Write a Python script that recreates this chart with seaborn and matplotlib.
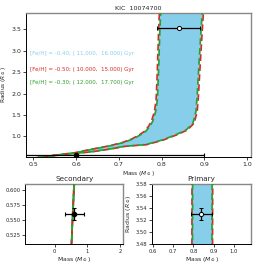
import numpy as np
import pandas as pd
import matplotlib
matplotlib.use("Agg")
import matplotlib.pyplot as plt
import seaborn as sns

# ---------------- data ----------------
title = "KIC  10074700"
# radius samples for the older (left) and younger (right) isochrones
old_r = [0.49, 0.56, 0.62, 0.69, 0.78, 0.86, 0.95, 1.04, 1.12, 1.23, 1.35, 1.58, 1.85, 2.30, 2.90, 3.50, 3.95]
young_r = [0.49, 0.555, 0.61, 0.64, 0.71, 0.77, 0.81, 0.92, 1.04, 1.15, 1.31, 1.58, 1.96, 2.50, 3.00, 3.50, 3.95]

# [Fe/H] = -0.40 (11, 16 Gyr)
m40_old = [0.500, 0.550, 0.600, 0.633, 0.680, 0.712, 0.735, 0.751, 0.763, 0.772, 0.779, 0.786, 0.790, 0.792, 0.794, 0.796, 0.798]
m40_young = [0.500, 0.550, 0.600, 0.633, 0.680, 0.712, 0.763, 0.802, 0.833, 0.857, 0.873, 0.880, 0.883, 0.886, 0.889, 0.892, 0.895]
# [Fe/H] = -0.50 (10, 15 Gyr)
m50_old = [0.498, 0.548, 0.597, 0.630, 0.677, 0.709, 0.732, 0.748, 0.760, 0.769, 0.776, 0.783, 0.787, 0.789, 0.791, 0.793, 0.795]
m50_young = [0.500, 0.551, 0.602, 0.636, 0.683, 0.715, 0.766, 0.805, 0.836, 0.860, 0.876, 0.883, 0.886, 0.889, 0.892, 0.895, 0.898]
# [Fe/H] = -0.30 (12, 17.7 Gyr)
m30_old = [0.500, 0.550, 0.600, 0.633, 0.680, 0.712, 0.735, 0.751, 0.763, 0.772, 0.779, 0.786, 0.790, 0.792, 0.794, 0.796, 0.798]
m30_young = [0.500, 0.550, 0.600, 0.633, 0.680, 0.712, 0.763, 0.802, 0.833, 0.857, 0.873, 0.880, 0.883, 0.886, 0.889, 0.892, 0.895]

legend_texts = ["[Fe/H] = -0.40; ( 11.000,  16.000) Gyr",
                "[Fe/H] = -0.50; ( 10.000,  15.000) Gyr",
                "[Fe/H] = -0.30; ( 12.000,  17.700) Gyr"]

# stars: mass, mass err, radius, radius err
prim_m, prim_me, prim_r, prim_re = 0.84, 0.05, 3.53, 0.01
sec_m, sec_me, sec_r, sec_re = 0.60, 0.30, 0.56, 0.01

# ---------------- style ----------------
sns.set_style("ticks")
plt.rcParams['font.family'] = ['DejaVu Sans']
plt.rcParams['mathtext.fontset'] = 'dejavusans'

SKY = "#87CEEB"
RED = "#d62728"
GRN = "#2ca02c"

fig = plt.figure(figsize=(2.57, 2.64), dpi=100)
ax = fig.add_axes([0.101, 0.4064, 0.8745, 0.5444])
ax2 = fig.add_axes([0.0984, 0.0758, 0.3816, 0.2272])
ax3 = fig.add_axes([0.5926, 0.0758, 0.3841, 0.2272])


def draw_iso(a):
    a.fill(np.concatenate([m40_old, m40_young[::-1]]),
           np.concatenate([old_r, young_r[::-1]]), color=SKY, lw=0, zorder=1)
    for m, r in [(m40_old, old_r), (m40_young, young_r)]:
        sns.lineplot(x=m, y=r, ax=a, sort=False, color=SKY, lw=1.2, zorder=2)
    for m, r in [(m50_old, old_r), (m50_young, young_r)]:
        sns.lineplot(x=m, y=r, ax=a, sort=False, color=RED, lw=1.2,
                     linestyle=(0, (4, 2)), zorder=3)
    for m, r in [(m30_old, old_r), (m30_young, young_r)]:
        sns.lineplot(x=m, y=r, ax=a, sort=False, color=GRN, lw=1.2,
                     linestyle=(3, (4, 2)), zorder=4)


def stars(a, cap=1.5):
    a.errorbar([prim_m], [prim_r], xerr=[prim_me], yerr=[prim_re], fmt='o',
               mfc='white', mec='black', ms=3, color='black', ecolor='black',
               elinewidth=0.9, capsize=cap, capthick=0.8, mew=0.7, zorder=6)
    a.errorbar([sec_m], [sec_r], xerr=[sec_me], yerr=[sec_re], fmt='o',
               mfc='black', mec='black', ms=3, color='black', ecolor='black',
               elinewidth=0.9, capsize=cap, capthick=0.8, zorder=6)


def spines(a):
    for s in ['top', 'right']:
        a.spines[s].set_color('#888888')
        a.spines[s].set_linewidth(1.0)
    for s in ['left', 'bottom']:
        a.spines[s].set_color('black')
        a.spines[s].set_linewidth(0.7)
    a.tick_params(length=2, width=0.6, pad=1.5)


for a in (ax, ax2, ax3):
    draw_iso(a)
    stars(a)
    spines(a)

# main panel
ax.set_xlim(0.483, 1.008)
ax.set_ylim(0.527, 3.88)
ax.set_xticks([0.5, 0.6, 0.7, 0.8, 0.9, 1.0])
ax.set_yticks([1.0, 1.5, 2.0, 2.5, 3.0, 3.5])
ax.tick_params(labelsize=4.5)
ax.set_title(title, fontsize=4.6, pad=2)
ax.set_xlabel(r"Mass ($M_\odot$)", fontsize=4.2, labelpad=1.5)
ax.set_ylabel(r"Radius ($R_\odot$)", fontsize=4.2, labelpad=2)
for txt, col, yy in zip(legend_texts, [SKY, RED, GRN], [0.715, 0.608, 0.518]):
    ax.text(0.018, yy, txt, transform=ax.transAxes, color=col, fontsize=4.0,
            va='center', ha='left')

# secondary
ax2.set_xlim(-0.9, 2.1)
ax2.set_ylim(0.51, 0.61)
ax2.set_xticks([0, 1, 2])
ax2.set_yticks([0.525, 0.550, 0.575, 0.600])
ax2.yaxis.set_major_formatter(matplotlib.ticker.FormatStrFormatter('%.3f'))
ax2.tick_params(labelsize=3.8)
ax2.set_title("Secondary", fontsize=5.2, pad=2)
ax2.set_xlabel(r"Mass ($M_\odot$)", fontsize=4.4, labelpad=1)
ax2.set_ylabel(r"Radius ($R_\odot$)", fontsize=4.4, labelpad=2)

# primary
ax3.set_xlim(0.597, 1.085)
ax3.set_ylim(3.48, 3.58)
ax3.set_xticks([0.6, 0.7, 0.8, 0.9, 1.0])
ax3.set_yticks([3.48, 3.50, 3.52, 3.54, 3.56, 3.58])
ax3.yaxis.set_major_formatter(matplotlib.ticker.FormatStrFormatter('%.2f'))
ax3.tick_params(labelsize=3.8)
ax3.set_title("Primary", fontsize=5.2, pad=2)
ax3.set_xlabel(r"Mass ($M_\odot$)", fontsize=4.4, labelpad=1)
ax3.set_ylabel(r"Radius ($R_\odot$)", fontsize=4.4, labelpad=2)

fig.savefig("out.png", dpi=100)
